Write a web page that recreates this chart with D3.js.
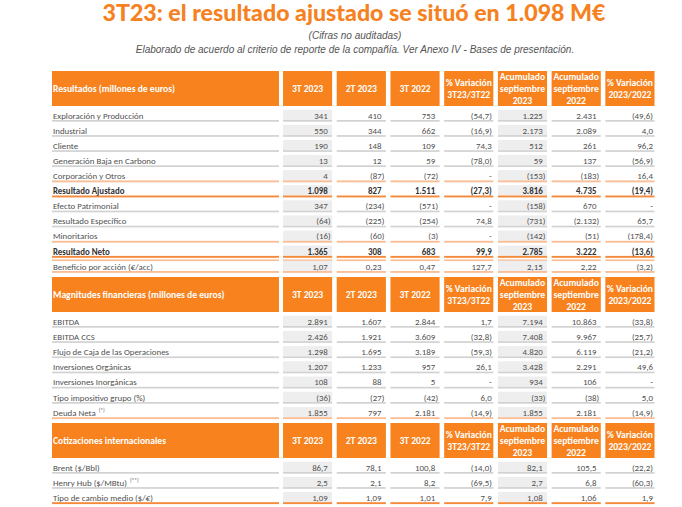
<!DOCTYPE html>
<html>
<head>
<meta charset="utf-8">
<script src="https://cdn.jsdelivr.net/npm/d3@7"></script>
<style>
  html, body { margin: 0; padding: 0; background: #fff; }
  svg { display: block; }
</style>
</head>
<body>
<svg id="chart" width="682" height="507"></svg>
<script>
// ---------------- DATA ----------------
const title = "3T23: el resultado ajustado se situó en 1.098 M€";
const subtitle1 = "(Cifras no auditadas)";
const subtitle2 = "Elaborado de acuerdo al criterio de reporte de la compañía. Ver Anexo IV - Bases de presentación.";

const columnHeaders = [
  ["3T 2023"],
  ["2T 2023"],
  ["3T 2022"],
  ["% Variación", "3T23/3T22"],
  ["Acumulado", "septiembre", "2023"],
  ["Acumulado", "septiembre", "2022"],
  ["% Variación", "2023/2022"]
];
const percentColumns = [3, 6];      // columns shown with one decimal
const shadedColumns = [0, 4];       // columns with grey background

const blockTitles = [
  "Resultados (millones de euros)",
  "Magnitudes financieras (millones de euros)",
  "Cotizaciones internacionales"
];

const resultadosLabels = [
  "Exploración y Producción", "Industrial", "Cliente", "Generación Baja en Carbono",
  "Corporación y Otros", "Resultado Ajustado", "Efecto Patrimonial", "Resultado Específico",
  "Minoritarios", "Resultado Neto", "Beneficio por acción (€/acc)"
];
const resultadosValues = [
  [341, 410, 753, -54.7, 1225, 2431, -49.6],
  [550, 344, 662, -16.9, 2173, 2089, 4.0],
  [190, 148, 109, 74.3, 512, 261, 96.2],
  [13, 12, 59, -78.0, 59, 137, -56.9],
  [4, -87, -72, null, -153, -183, 16.4],
  [1098, 827, 1511, -27.3, 3816, 4735, -19.4],
  [347, -234, -571, null, -158, 670, null],
  [-64, -225, -254, 74.8, -731, -2132, 65.7],
  [-16, -60, -3, null, -142, -51, -178.4],
  [1365, 308, 683, 99.9, 2785, 3222, -13.6],
  [1.07, 0.23, 0.47, 127.7, 2.15, 2.22, -3.2]
];
const resultadosDecimals = [0, 0, 0, 0, 0, 0, 0, 0, 0, 0, 2];

const magnitudesLabels = [
  "EBITDA", "EBITDA CCS", "Flujo de Caja de las Operaciones", "Inversiones Orgánicas",
  "Inversiones Inorgánicas", "Tipo impositivo grupo (%)", "Deuda Neta"
];
const magnitudesSup = [null, null, null, null, null, null, "(*)"];
const magnitudesValues = [
  [2891, 1607, 2844, 1.7, 7194, 10863, -33.8],
  [2426, 1921, 3609, -32.8, 7408, 9967, -25.7],
  [1298, 1695, 3189, -59.3, 4820, 6119, -21.2],
  [1207, 1233, 957, 26.1, 3428, 2291, 49.6],
  [108, 88, 5, null, 934, 106, null],
  [-36, -27, -42, 6.0, -33, -38, 5.0],
  [1855, 797, 2181, -14.9, 1855, 2181, -14.9]
];
const magnitudesDecimals = [0, 0, 0, 0, 0, 0, 0];

const cotizacionesLabels = ["Brent ($/Bbl)", "Henry Hub ($/MBtu)", "Tipo de cambio medio ($/€)"];
const cotizacionesSup = [null, "(**)", null];
const cotizacionesValues = [
  [86.7, 78.1, 100.8, -14.0, 82.1, 105.5, -22.2],
  [2.5, 2.1, 8.2, -69.5, 2.7, 6.8, -60.3],
  [1.09, 1.09, 1.01, 7.9, 1.08, 1.06, 1.9]
];
const cotizacionesDecimals = [1, 1, 2];

// row styles: "n" normal, "sub" before a total, "tot" bold total, "net" bold net total, "end" closing
const resultadosStyles = ["n", "n", "n", "n", "sub", "tot", "n", "n", "sub", "net", "sub"];
const magnitudesStyles = ["n", "n", "n", "n", "n", "n", "sub"];
const cotizacionesStyles = ["n", "n", "end"];

// ---------------- STYLE / LAYOUT ----------------
const ORANGE = "#F7821E";
const ORANGE_LINE = "#F58A3A";
const LIGHT_ORANGE = "#F9BE96";
const GREY_BG = "#EEEEEE";
const GREY_LINE = "#D2D2D2";
const TEXT = "#505050";
const TEXT_BOLD = "#333333";
const FONT = "Carlito, Calibri, Lato, 'Open Sans', sans-serif";

const svg = d3.select("#chart");
const W = 682;

const es = d3.formatLocale({decimal: ",", thousands: ".", grouping: [3], currency: ["", "€"]});
function fmt(v, dec) {
  if (v === null || v === undefined) return "-";
  const f = es.format(dec > 0 ? `,.${dec}f` : ",.0f");
  const s = f(Math.abs(v));
  return v < 0 ? `(${s})` : s;
}

// Title
svg.append("text")
  .attr("x", W / 2 + 13).attr("y", 21)
  .attr("text-anchor", "middle")
  .attr("font-family", "Lato, 'DejaVu Sans', sans-serif")
  .attr("font-weight", 900)
  .attr("font-size", 22.5)
  .attr("fill", "#F5821F")
  .attr("textLength", 503)
  .attr("lengthAdjust", "spacingAndGlyphs")
  .text(title);

svg.append("text")
  .attr("x", 355).attr("y", 39)
  .attr("text-anchor", "middle")
  .attr("font-family", "'Liberation Sans', Arial, sans-serif")
  .attr("font-style", "italic")
  .attr("font-size", 10)
  .attr("fill", "#555")
  .text(subtitle1);
svg.append("text")
  .attr("x", 355).attr("y", 53)
  .attr("text-anchor", "middle")
  .attr("font-family", "'Liberation Sans', Arial, sans-serif")
  .attr("font-style", "italic")
  .attr("font-size", 10)
  .attr("fill", "#555")
  .text(subtitle2);

// Column scale
const colIdx = d3.range(columnHeaders.length);
const x = d3.scaleBand().domain(colIdx).range([283, 654.5]).paddingInner(0.085);
const labelX0 = 52, labelX1 = 279;

const blocks = [
  {title: blockTitles[0], labels: resultadosLabels, sup: resultadosLabels.map(() => null), values: resultadosValues, dec: resultadosDecimals, styles: resultadosStyles, top: 71, pitch: 15.1},
  {title: blockTitles[1], labels: magnitudesLabels, sup: magnitudesSup, values: magnitudesValues, dec: magnitudesDecimals, styles: magnitudesStyles, top: 277, pitch: 15.2},
  {title: blockTitles[2], labels: cotizacionesLabels, sup: cotizacionesSup, values: cotizacionesValues, dec: cotizacionesDecimals, styles: cotizacionesStyles, top: 423, pitch: 15.1}
];
const headerH = 35;
const FS = 8.9;
const HFS = 9.6;

blocks.forEach(b => {
  const g = svg.append("g");
  // header cells
  g.append("rect").attr("x", labelX0).attr("y", b.top).attr("width", labelX1 - labelX0).attr("height", headerH).attr("fill", ORANGE);
  g.append("text")
    .attr("x", labelX0 + 1).attr("y", b.top + headerH / 2 + 3.3)
    .attr("font-family", FONT).attr("font-weight", 700).attr("font-size", HFS)
    .attr("fill", "#fff").text(b.title);
  colIdx.forEach(c => {
    g.append("rect").attr("x", x(c)).attr("y", b.top).attr("width", x.bandwidth()).attr("height", headerH).attr("fill", ORANGE);
    const lines = columnHeaders[c];
    const lh = 11.8;
    const y0 = b.top + headerH / 2 - (lines.length - 1) * lh / 2 + 3.3;
    lines.forEach((ln, i) => {
      g.append("text")
        .attr("x", x(c) + x.bandwidth() / 2).attr("y", y0 + i * lh)
        .attr("text-anchor", "middle")
        .attr("font-family", FONT).attr("font-weight", 700).attr("font-size", HFS)
        .attr("fill", "#fff").text(ln);
    });
  });

  // rows
  const rowsTop = b.top + headerH;
  b.labels.forEach((lab, r) => {
    const cy = rowsTop + 9.5 + r * b.pitch;   // text centre
    const style = b.styles[r];
    const bold = style === "tot" || style === "net";
    const lineColor = style === "n" ? GREY_LINE : (style === "sub" ? LIGHT_ORANGE : ORANGE_LINE);
    const lineW = style === "n" ? 1.7 : 1.9;
    // shaded cells
    shadedColumns.forEach(c => {
      g.append("rect").attr("x", x(c)).attr("y", cy - 5.8).attr("width", x.bandwidth()).attr("height", 10.3).attr("fill", GREY_BG);
    });
    // bottom lines
    const segs = [[labelX0, labelX1]].concat(colIdx.map(c => [x(c), x(c) + x.bandwidth()]));
    segs.forEach(([a, z]) => {
      g.append("rect").attr("x", a).attr("y", cy + 4.5).attr("width", z - a).attr("height", lineW).attr("fill", lineColor);
      if (style === "net") {
        g.append("rect").attr("x", a).attr("y", cy + 8).attr("width", z - a).attr("height", 1.7).attr("fill", LIGHT_ORANGE);
      }
    });
    // label
    const t = g.append("text")
      .attr("x", labelX0 + 1).attr("y", cy + 3.1)
      .attr("font-family", FONT).attr("font-size", FS)
      .attr("font-weight", bold ? 700 : 400)
      .attr("fill", bold ? TEXT_BOLD : TEXT)
      .text(lab);
    if (b.sup[r]) {
      t.append("tspan").attr("dx", 3).attr("dy", -4).attr("font-size", 5.5).text(b.sup[r]);
    }
    // values
    b.values[r].forEach((v, c) => {
      const isPct = percentColumns.includes(c);
      const dec = isPct ? 1 : b.dec[r];
      const s = fmt(v, dec);
      const right = x(c) + x.bandwidth();
      let xx;
      if (isPct) xx = right - 1.5;
      else xx = (v !== null && v < 0) ? right - 1.5 : right - 4.3;
      g.append("text")
        .attr("x", xx).attr("y", cy + 3.1)
        .attr("text-anchor", "end")
        .attr("font-family", FONT).attr("font-size", FS)
        .attr("font-weight", bold ? 700 : 400)
        .attr("fill", bold ? TEXT_BOLD : TEXT)
        .text(s);
    });
  });
});
</script>
</body>
</html>
